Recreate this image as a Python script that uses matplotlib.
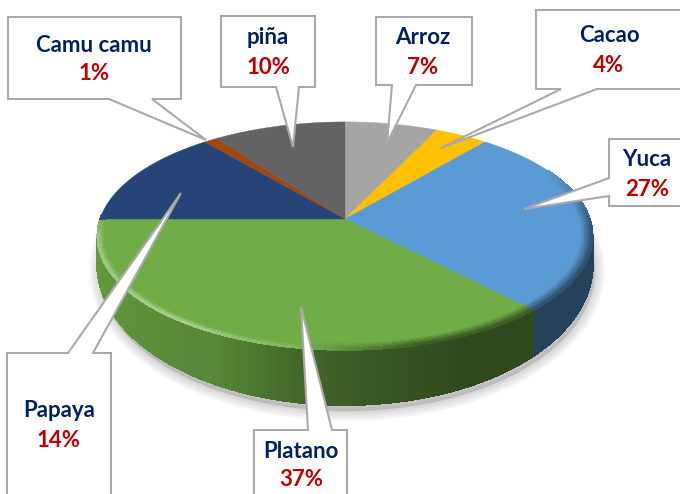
import numpy as np
import matplotlib
matplotlib.use("Agg")
import matplotlib.pyplot as plt
from matplotlib.collections import PolyCollection
from matplotlib.colors import to_rgb
from matplotlib.patches import Polygon

labels = ["Arroz", "Cacao", "Yuca", "Platano", "Papaya", "Camu camu", "piña"]
values = [7, 4, 27, 37, 14, 1, 10]
colors = ["#A5A5A5", "#FFC000", "#5B9BD5", "#70AD47", "#264478", "#9E480E", "#636363"]

# pie geometry in pixels
cx, cy = 345, 219
rx, ry = 245, 111.5
k = 0.149  # perspective of the top face
wall_off, wall_ry = 25, 137

# callout outlines: box (x0, y0, x1, y1), pointer base, tip, text centres
callouts = {
    "Arroz": ((376, 17, 472, 85), [(416, 85), (387, 143), (392, 85)], (423, 37), (423, 67)),
    "Cacao": ((536, 10, 690, 89), [(597, 89), (441, 148), (561, 89)], (609, 36), (609, 65)),
    "Yuca": ((609, 139, 690, 206), [(609, 178), (524, 209), (609, 196)], (647, 159), (647, 189)),
    "Platano": ((254, 430, 347, 505), [(308, 430), (301, 307), (332, 430)], (301, 451), (301, 479)),
    "Papaya": ((7, 353, 111, 505), [(68, 353), (181, 193), (93, 353)], (59, 410), (59, 440)),
    "Camu camu": ((8, 17, 181, 99), [(152, 99), (206, 140), (109, 99)], (94, 45), (94, 74)),
    "piña": ((221, 16, 315, 87), [(299, 87), (293, 147), (276, 87)], (268, 37), (268, 68)),
}


def top_xy(theta, r=1.0):
    t = np.radians(theta)
    w = 1 + k * r * np.cos(t)
    return cx + rx * r * np.sin(t) / w, cy - ry * r * np.cos(t) / w


def wall_xy(theta):
    t = np.radians(theta)
    w = 1 + k * np.cos(t)
    return cx + rx * np.sin(t) / w, cy + wall_off - wall_ry * np.cos(t) / w


def wall_shade(theta):
    return np.interp(theta, [98, 155, 174, 190, 207, 240, 262], [0.42, 0.42, 0.5, 0.6, 0.78, 0.85, 0.9])


def rim_shade(theta, r):
    # soft dark edge on the right, thin bright edge on the lower left
    s = (r - 0.955) / 0.045
    dark = np.interp(theta, [62, 95, 165, 190], [0, 0.5, 0.5, 0]) * s
    light = np.interp(theta, [180, 215, 262, 272], [0, 0.45, 0.35, 0]) * max(0, 2 * s - 1)
    return dark, light


fig = plt.figure(figsize=(6.8, 4.94), dpi=100)
ax = fig.add_axes([0, 0, 1, 1])
ax.set_xlim(0, 680)
ax.set_ylim(494, 0)
ax.axis("off")

stops = np.cumsum([0] + values) * 3.6
wall_limit = np.degrees(np.arccos(-k))

# drop shadow under the disc
th = np.linspace(0, 360, 361)
sx, sy = wall_xy(th)
for lw in [14, 11, 8, 5, 2]:
    ax.add_patch(Polygon(np.column_stack([sx + 2, sy + 6]), closed=True, facecolor="#808080",
                         edgecolor="#808080", lw=lw, alpha=0.07, joinstyle="round", zorder=1))

# side wall, shaded strips; thin edges stop gaps where the strips get narrow
quads, quad_cols = [], []
for i in range(len(values)):
    a0, a1 = max(stops[i], wall_limit), min(stops[i + 1], 360 - wall_limit)
    if a1 <= a0:
        continue
    steps = np.linspace(a0, a1, int(a1 - a0) * 2 + 2)
    base = np.array(to_rgb(colors[i]))
    for t0, t1 in zip(steps[:-1], steps[1:]):
        x0, y0 = top_xy(t0)
        x1, y1 = top_xy(t1)
        x2, y2 = wall_xy(t1)
        x3, y3 = wall_xy(t0)
        quads.append([(x0, y0), (x1, y1), (x2, y2), (x3, y3)])
        quad_cols.append(base * wall_shade((t0 + t1) / 2))
ax.add_collection(PolyCollection(quads, facecolors=quad_cols, edgecolors=quad_cols, linewidths=0.7,
                                 antialiaseds=False, zorder=2))

# top face
for i in range(len(values)):
    steps = np.linspace(stops[i], stops[i + 1], int(stops[i + 1] - stops[i]) * 2 + 2)
    x, y = top_xy(steps)
    pts = np.column_stack([np.r_[cx, x], np.r_[cy, y]])
    ax.add_patch(Polygon(pts, closed=True, facecolor=colors[i], edgecolor=colors[i], lw=0.3, zorder=3))

# bevel band along the rim
quads, quad_cols = [], []
radii = np.linspace(0.955, 1.0, 7)
for i in range(len(values)):
    steps = np.linspace(stops[i], stops[i + 1], int(stops[i + 1] - stops[i]) + 2)
    base = np.array(to_rgb(colors[i]))
    for t0, t1 in zip(steps[:-1], steps[1:]):
        for r0, r1 in zip(radii[:-1], radii[1:]):
            d, l = rim_shade((t0 + t1) / 2, (r0 + r1) / 2)
            if d == 0 and l == 0:
                continue
            c = base * (1 - d)
            c = c + (1 - c) * l
            quads.append([top_xy(t0, r0), top_xy(t1, r0), top_xy(t1, r1), top_xy(t0, r1)])
            quad_cols.append(c)
ax.add_collection(PolyCollection(quads, facecolors=quad_cols, edgecolors=quad_cols, linewidths=0.4,
                                 antialiaseds=False, zorder=4))

# callouts
for name, value in zip(labels, values):
    (x0, y0, x1, y1), pointer, name_pos, pct_pos = callouts[name]
    if pointer[0][1] == y0:  # pointer leaves the top edge
        pts = [(x0, y0)] + pointer + [(x1, y0), (x1, y1), (x0, y1)]
    elif pointer[0][0] == x0:  # left edge
        pts = [(x0, y0), (x1, y0), (x1, y1), (x0, y1)] + pointer[::-1]
    else:  # bottom edge
        pts = [(x0, y0), (x1, y0), (x1, y1)] + pointer + [(x0, y1)]
    ax.add_patch(Polygon(pts, closed=True, facecolor="white", edgecolor="#A9A9A9", lw=1.5,
                         joinstyle="miter", zorder=5))
    ax.text(*name_pos, name, color="#002060", fontsize=16, family="Lato", weight="bold",
            ha="center", va="center", zorder=6)
    ax.text(*pct_pos, f"{value}%", color="#C00000", fontsize=16, family="Lato", weight="bold",
            ha="center", va="center", zorder=6)

fig.savefig("out.png", dpi=100)
